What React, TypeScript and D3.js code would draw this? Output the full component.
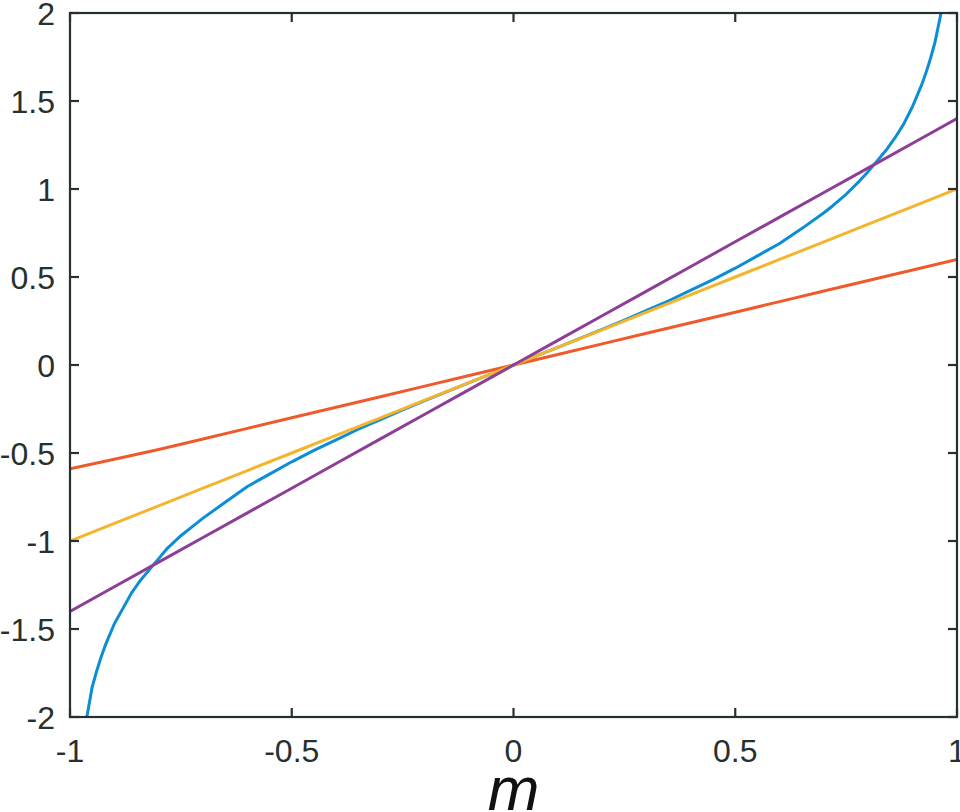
import React from "react";
import * as d3 from "d3";

const mGrid = [-1, -0.9, -0.8, -0.7, -0.6, -0.5, -0.4, -0.3, -0.2, -0.1, 0, 0.1, 0.2, 0.3, 0.4, 0.5, 0.6, 0.7, 0.8, 0.9, 1];
const redVals = [-0.59, -0.535, -0.48, -0.42, -0.36, -0.3, -0.24, -0.18, -0.12, -0.06, 0, 0.06, 0.12, 0.18, 0.24, 0.3, 0.36, 0.42, 0.48, 0.54, 0.6];
const yellowVals = [-1.0, -0.9, -0.8, -0.7, -0.6, -0.5, -0.4, -0.3, -0.2, -0.1, 0, 0.1, 0.2, 0.3, 0.4, 0.5, 0.6, 0.7, 0.8, 0.9, 1.0];
const purpleVals = [-1.4, -1.26, -1.12, -0.98, -0.84, -0.7, -0.56, -0.42, -0.28, -0.14, 0, 0.14, 0.28, 0.42, 0.56, 0.7, 0.84, 0.98, 1.12, 1.26, 1.4];

const blueM = [-0.962, -0.955, -0.95, -0.94, -0.93, -0.92, -0.9, -0.88, -0.86, -0.84, -0.82, -0.8, -0.78, -0.75, -0.72, -0.7, -0.65, -0.6, -0.55, -0.5, -0.45, -0.4, -0.35, -0.3, -0.25, -0.2, -0.15, -0.1, -0.05, 0, 0.05, 0.1, 0.15, 0.2, 0.25, 0.3, 0.35, 0.4, 0.45, 0.5, 0.55, 0.6, 0.65, 0.7, 0.72, 0.75, 0.78, 0.8, 0.82, 0.84, 0.86, 0.88, 0.9, 0.92, 0.93, 0.94, 0.95, 0.955, 0.964];
const blueVals = [-2.0, -1.9, -1.83, -1.74, -1.66, -1.59, -1.47, -1.38, -1.29, -1.22, -1.16, -1.1, -1.04, -0.97, -0.91, -0.87, -0.78, -0.69, -0.62, -0.55, -0.485, -0.425, -0.365, -0.31, -0.255, -0.203, -0.151, -0.1, -0.05, 0, 0.05, 0.1, 0.151, 0.203, 0.255, 0.31, 0.365, 0.425, 0.485, 0.55, 0.62, 0.69, 0.775, 0.865, 0.905, 0.97, 1.045, 1.1, 1.16, 1.22, 1.29, 1.37, 1.47, 1.59, 1.66, 1.74, 1.83, 1.89, 2.0];

const xTicks = [-1, -0.5, 0, 0.5, 1];
const yTicks = [-2, -1.5, -1, -0.5, 0, 0.5, 1, 1.5, 2];

const COLORS = { blue: "#0b8ed6", red: "#ef5a2c", yellow: "#f5b42c", purple: "#8d3e97" };
const AXIS = "#273030";

export default function App() {
  const W = 960, H = 812;
  const L = 70, R = 957, T = 13, B = 717;
  const x = d3.scaleLinear().domain([-1, 1]).range([L, R]);
  const y = d3.scaleLinear().domain([-2, 2]).range([B, T]);
  const line = d3.line<[number, number]>().x((d) => x(d[0])).y((d) => y(d[1]));
  const series = [
    { c: COLORS.blue, pts: blueM.map((m, i) => [m, blueVals[i]] as [number, number]) },
    { c: COLORS.red, pts: mGrid.map((m, i) => [m, redVals[i]] as [number, number]) },
    { c: COLORS.yellow, pts: mGrid.map((m, i) => [m, yellowVals[i]] as [number, number]) },
    { c: COLORS.purple, pts: mGrid.map((m, i) => [m, purpleVals[i]] as [number, number]) },
  ];
  const tickLen = 9;
  const font = "'Liberation Sans', Arial, sans-serif";
  return (
    <svg width={W} height={H} style={{ position: "absolute", left: 0, top: 0 }}>
      <rect x={0} y={0} width={W} height={H} fill="#fff" />
      <defs>
        <clipPath id="plot">
          <rect x={L} y={T} width={R - L} height={B - T} />
        </clipPath>
      </defs>
      <g clipPath="url(#plot)">
        {series.map((s, i) => (
          <path key={i} d={line(s.pts) || ""} fill="none" stroke={s.c} strokeWidth={3} strokeLinejoin="round" />
        ))}
      </g>
      <rect x={L} y={T} width={R - L} height={B - T} fill="none" stroke={AXIS} strokeWidth={2.2} />
      {xTicks.map((t) => (
        <g key={"x" + t}>
          <line x1={x(t)} x2={x(t)} y1={B} y2={B - tickLen} stroke={AXIS} strokeWidth={2.2} />
          <line x1={x(t)} x2={x(t)} y1={T} y2={T + tickLen} stroke={AXIS} strokeWidth={2.2} />
          <text x={x(t)} y={762} textAnchor="middle" fontFamily={font} fontSize={32} fill={AXIS}>
            {String(t)}
          </text>
        </g>
      ))}
      {yTicks.map((t) => (
        <g key={"y" + t}>
          <line x1={L} x2={L + tickLen} y1={y(t)} y2={y(t)} stroke={AXIS} strokeWidth={2.2} />
          <line x1={R} x2={R - tickLen} y1={y(t)} y2={y(t)} stroke={AXIS} strokeWidth={2.2} />
          <text x={55} y={y(t) + 12} textAnchor="end" fontFamily={font} fontSize={32} fill={AXIS}>
            {String(t)}
          </text>
        </g>
      ))}
      <text x={x(0)} y={810} textAnchor="middle" fontFamily={font} fontStyle="italic" fontSize={62} fill="#111">
        m
      </text>
    </svg>
  );
}
